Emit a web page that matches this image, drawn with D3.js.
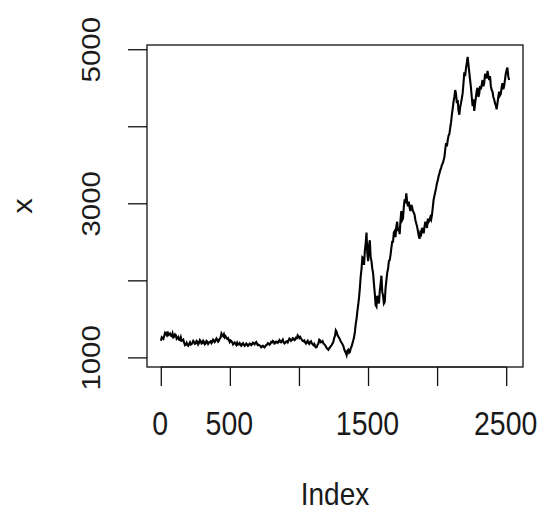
<!DOCTYPE html>
<html>
<head>
<meta charset="utf-8">
<script src="https://cdn.jsdelivr.net/npm/d3@7"></script>
<style>
	body { margin: 0; background: #fff; }
	text { font-family: "Liberation Sans", Arial, sans-serif; fill: #1a1a1a; }
</style>
</head>
<body>
<div id="chart"></div>
<script>
// series, one value every 6 steps of Index (first at 1)
var indexStart = 1,
	indexStep = 6;

var values = [
	1216, 1260, 1250, 1240, 1280, 1320, 1310, 1290, 1335, 1290, 1300, 1310, 1280, 1275, 1310, 1260, 1270, 1300, 1290, 1240,
	1250, 1265, 1230, 1225, 1260, 1215, 1220, 1230, 1190, 1160, 1170, 1190, 1160, 1150, 1175, 1195, 1165, 1170, 1190, 1215,
	1200, 1175, 1180, 1215, 1205, 1170, 1190, 1225, 1210, 1180, 1185, 1215, 1200, 1170, 1180, 1215, 1205, 1175, 1190, 1200,
	1210, 1185, 1200, 1230, 1220, 1200, 1215, 1245, 1230, 1205, 1220, 1245, 1255, 1310, 1290, 1275, 1300, 1260, 1275, 1255,
	1240, 1250, 1225, 1200, 1220, 1210, 1195, 1170, 1185, 1195, 1175, 1160, 1190, 1165, 1170, 1185, 1160, 1150, 1175, 1185,
	1165, 1150, 1160, 1180, 1170, 1150, 1160, 1180, 1175, 1160, 1170, 1190, 1180, 1170, 1190, 1200, 1175, 1160, 1165, 1155,
	1150, 1130, 1140, 1150, 1135, 1130, 1145, 1160, 1165, 1185, 1180, 1165, 1175, 1200, 1195, 1215, 1205, 1180, 1185, 1205,
	1200, 1190, 1210, 1225, 1200, 1195, 1215, 1230, 1195, 1180, 1190, 1205, 1210, 1195, 1220, 1245, 1235, 1215, 1225, 1250,
	1245, 1225, 1230, 1255, 1250, 1285, 1270, 1250, 1265, 1245, 1230, 1215, 1210, 1220, 1195, 1180, 1200, 1215, 1185, 1175,
	1200, 1210, 1185, 1170, 1160, 1175, 1145, 1130, 1135, 1165, 1180, 1230, 1220, 1195, 1200, 1210, 1180, 1170, 1160, 1140,
	1120, 1110, 1100, 1120, 1130, 1145, 1160, 1180, 1200, 1250, 1280, 1350, 1330, 1290, 1270, 1255, 1230, 1205, 1190, 1170,
	1150, 1110, 1080, 1060, 1030, 1090, 1100, 1060, 1070, 1120, 1140, 1180, 1220, 1260,
	1330, 1430, 1500, 1600, 1680, 1780, 1900, 2050, 2150, 2300, 2290, 2200, 2380, 2480, 2620, 2350, 2250, 2450, 2520, 2300,
	2250, 2150, 2090, 1950, 1830, 1680, 1660, 1800, 1760, 1700, 1860, 1950, 2060, 1850, 1800, 1700, 1720, 1900, 2000, 2100,
	2150, 2250, 2260, 2330, 2420, 2500, 2500, 2620, 2640, 2560, 2700, 2760, 2640, 2680, 2600, 2780, 2900, 2780, 2800, 2950,
	3050, 3000, 3130, 3020, 2960, 3020, 2940, 2900, 2980, 2950, 2900, 2880, 2850, 2780, 2740, 2700, 2640, 2580, 2540, 2620,
	2600, 2680, 2650, 2610, 2700, 2760, 2720, 2680, 2800, 2760, 2780, 2820, 2790, 2850, 2950, 3050, 3100, 3150, 3200, 3260,
	3300, 3350, 3390, 3430, 3460, 3500, 3520, 3560, 3600, 3700, 3780, 3740, 3820, 3880, 3900, 3980, 4050, 4150, 4230, 4320,
	4380, 4470, 4420, 4300, 4340, 4200, 4150, 4250, 4300, 4360, 4430, 4560, 4700, 4650, 4750, 4820, 4900, 4800, 4700, 4600,
	4500, 4380, 4260, 4350, 4200, 4290, 4380, 4460, 4500, 4380, 4420, 4520, 4480, 4540, 4600, 4520, 4560, 4680, 4650, 4620,
	4720, 4650, 4600, 4650, 4520, 4470, 4450, 4380, 4350, 4300, 4270, 4220, 4300, 4380, 4450, 4400, 4420, 4500, 4560, 4480,
	4520, 4600, 4680, 4730, 4760, 4650, 4600
];

var xTicks = [0, 500, 1000, 1500, 2000, 2500];
var xTickLabels = ["0", "500", "", "1500", "", "2500"]; // R drops the ones that would overlap
var yTicks = [1000, 2000, 3000, 4000, 5000];
var yTickLabels = ["1000", "", "3000", "", "5000"];

var xTitle = "Index",
	yTitle = "x";

(function() {
	var width = 540,
		height = 510;

	var plot = { left: 147, top: 45, right: 523, bottom: 367 };

	var points = values.map(function(v, i) {
		return { index: indexStart + i * indexStep, value: v };
	});

	// R pads the data range by 4% on every side
	var xExt = d3.extent(points, function(d) { return d.index; }),
		yExt = d3.extent(points, function(d) { return d.value; });
	var xPad = (xExt[1] - xExt[0]) * 0.04,
		yPad = (yExt[1] - yExt[0]) * 0.04;

	var xScale = d3.scaleLinear()
		.domain([xExt[0] - xPad, xExt[1] + xPad])
		.range([plot.left, plot.right])

	var yScale = d3.scaleLinear()
		.domain([yExt[0] - yPad, yExt[1] + yPad])
		.range([plot.bottom, plot.top])

	var svg = d3.select("#chart")
		.append("svg")
		.attr("width", width)
		.attr("height", height)

	// the picture is a bit stretched up and down, so the text is too
	var stretch = 1.15;

	var xAxis = d3.axisBottom(xScale)
		.tickValues(xTicks)
		.tickSize(19)
		.tickSizeOuter(0)
		.tickFormat(function(d, i) { return xTickLabels[i]; })

	var gx = svg.append("g")
		.attr("transform", "translate(0," + plot.bottom + ")")
		.call(xAxis)

	gx.select(".domain")
		.attr("d", "M" + xScale(xTicks[0]) + ",0H" + xScale(xTicks[xTicks.length - 1]))
	gx.selectAll("line").attr("stroke", "#111").attr("stroke-width", 1.3)
	gx.selectAll("text")
		.attr("y", null)
		.attr("dy", null)
		.attr("transform", "translate(-1,68) scale(1," + stretch + ")")
		.style("font-size", "28.5px")
		.style("font-family", null)

	var yAxis = d3.axisLeft(yScale)
		.tickValues(yTicks)
		.tickSize(19)
		.tickSizeOuter(0)
		.tickFormat(function(d, i) { return yTickLabels[i]; })

	var gy = svg.append("g")
		.attr("transform", "translate(" + plot.left + ",0)")
		.call(yAxis)

	gy.select(".domain").remove()
	gy.selectAll("line").attr("stroke", "#111").attr("stroke-width", 1.3)
	gy.selectAll("text")
		.attr("x", null)
		.attr("dy", null)
		.attr("text-anchor", "middle")
		.attr("transform", "translate(-47,0) scale(1," + stretch + ") rotate(-90)")
		.style("font-size", "25.6px")
		.style("font-family", null)

	// box round the plot
	svg.append("rect")
		.attr("x", plot.left)
		.attr("y", plot.top)
		.attr("width", plot.right - plot.left)
		.attr("height", plot.bottom - plot.top)
		.attr("fill", "none")
		.attr("stroke", "#111")
		.attr("stroke-width", 1.3)

	var line = d3.line()
		.x(function(d) { return xScale(d.index); })
		.y(function(d) { return yScale(d.value); })

	svg.append("path")
		.datum(points)
		.attr("d", line)
		.attr("fill", "none")
		.attr("stroke", "#000")
		.attr("stroke-width", 2.1)
		.attr("stroke-linejoin", "miter")

	svg.append("text")
		.attr("text-anchor", "middle")
		.attr("transform", "translate(" + (plot.left + plot.right) / 2 + ",505) scale(1,1.15)")
		.style("font-size", "28px")
		.text(xTitle)

	svg.append("text")
		.attr("text-anchor", "middle")
		.attr("transform", "translate(32," + (plot.top + plot.bottom) / 2 + ") scale(1," + stretch + ") rotate(-90)")
		.style("font-size", "27px")
		.text(yTitle)
}) ();
</script>
</body>
</html>
